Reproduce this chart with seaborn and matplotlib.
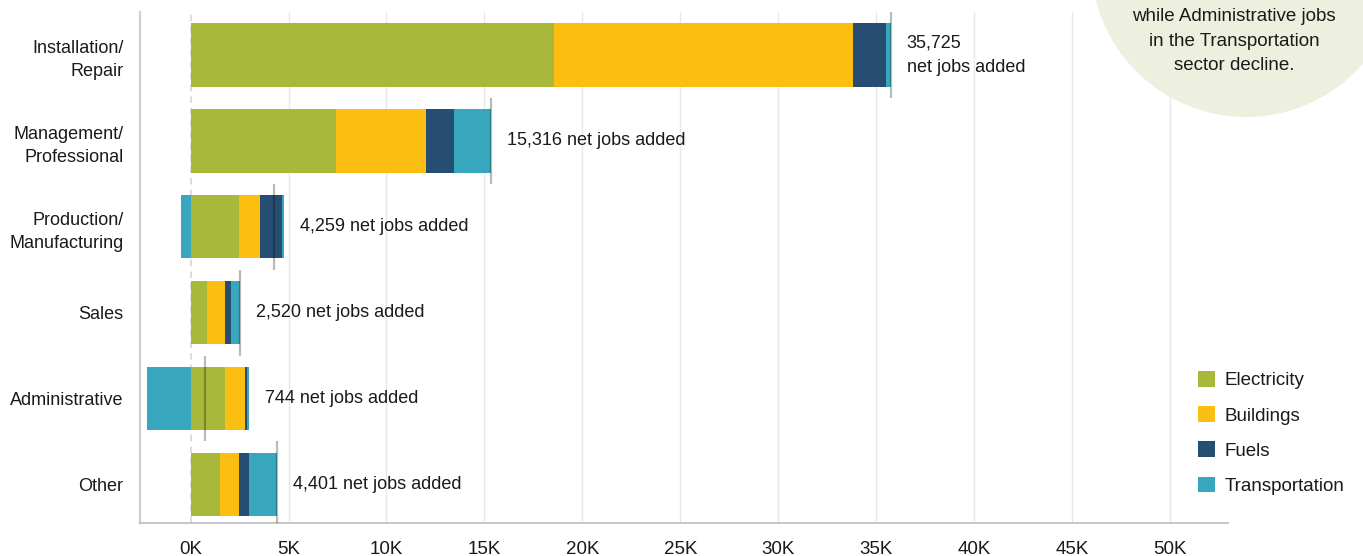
import matplotlib
matplotlib.use("Agg")
import matplotlib.pyplot as plt
import seaborn as sns
import numpy as np
import pandas as pd
from matplotlib.patches import Circle, Patch
from matplotlib.transforms import IdentityTransform

# ---- data (jobs) ----
categories = ["Installation/\nRepair", "Management/\nProfessional", "Production/\nManufacturing",
              "Sales", "Administrative", "Other"]
electricity = [18550, 7420, 2470, 840, 1760, 1510]
buildings = [15250, 4600, 1080, 920, 1020, 960]
fuels = [1680, 1420, 1140, 310, 100, 510]
transport_pos = [250, 1880, 60, 450, 100, 1440]
transport_neg = [0, 0, -500, 0, -2240, 0]
net_totals = [35725, 15316, 4259, 2520, 744, 4401]
series_names = ["Electricity", "Buildings", "Fuels", "Transportation"]
series_colors = ["#a7b83b", "#fdbe12", "#254e72", "#38a6bd"]
tick_values = list(range(0, 50001, 5000))
tick_labels = [f"{v // 1000}K" for v in tick_values]
note_text = "while Administrative jobs\nin the Transportation\nsector decline."

sns.set_theme(style="white")
plt.rcParams["font.family"] = ["Liberation Sans", "DejaVu Sans"]

fig = plt.figure(figsize=(13.63, 5.56), dpi=100)
ax = fig.add_axes([140 / 1363, 1 - 523 / 556, (1228 - 140) / 1363, (523 - 12) / 556])

# cumulative stacks (draw longest first, shorter ones on top)
parts = [electricity, buildings, fuels, transport_pos]
cums = np.cumsum(np.array(parts, dtype=float), axis=0)
for i in range(len(parts) - 1, -1, -1):
    df = pd.DataFrame({"cat": categories, "val": cums[i]})
    sns.barplot(data=df, x="val", y="cat", orient="h", color=series_colors[i],
                saturation=1, width=0.74, linewidth=0, ax=ax, zorder=3)
dfn = pd.DataFrame({"cat": categories, "val": transport_neg})
sns.barplot(data=dfn, x="val", y="cat", orient="h", color=series_colors[3],
            saturation=1, width=0.74, linewidth=0, ax=ax, zorder=3)

# grid and zero line
for v in tick_values[1:]:
    ax.axvline(v, color="#e8e8e8", lw=1.0, zorder=0)
ax.axvline(0, color="#d6d6d6", lw=1.2, ls=(0, (4, 3)), zorder=1)

# net total markers and labels
pos_end = cums[-1]
for i, (net, end) in enumerate(zip(net_totals, pos_end)):
    ax.plot([net, net], [i - 0.5, i + 0.5], color="black", alpha=0.27, lw=1.6,
            solid_capstyle="butt", zorder=4)
    if i == 0:
        label = f"{net:,}\nnet jobs added"
    else:
        label = f"{net:,} net jobs added"
    ax.text(end + 820, i, label, va="center", ha="left", fontsize=13,
            color="#1a1a1a", linespacing=1.55, zorder=5)

ax.set_xlim(-2580, 52950)
ax.set_ylim(5.45, -0.5)
ax.set_xticks(tick_values)
ax.set_xticklabels(tick_labels, fontsize=13.5, color="#1a1a1a")
ax.tick_params(axis="x", length=0, pad=13)
ax.tick_params(axis="y", length=0, pad=12, labelsize=13, labelcolor="#1a1a1a")
for t in ax.get_yticklabels():
    t.set_linespacing(1.5)
ax.set_xlabel("")
ax.set_ylabel("")
for s in ["top", "right"]:
    ax.spines[s].set_visible(False)
ax.spines["left"].set_color("#cfcfcf")
ax.spines["left"].set_linewidth(1.6)
ax.spines["bottom"].set_color("#bdbdbd")
ax.spines["bottom"].set_linewidth(1.2)

# legend
handles = [Patch(facecolor=c, edgecolor="none", label=n) for n, c in zip(series_names, series_colors)]
fig.legend(handles=handles, loc="center left", bbox_to_anchor=(1198 / 1363, 1 - 433 / 556),
           frameon=False, fontsize=13.5, handlelength=0.9, handleheight=0.9,
           handletextpad=0.5, labelspacing=0.9, borderpad=0, borderaxespad=0,
           labelcolor="#1a1a1a")

# callout circle
circ = Circle((1246, 556 + 38), 155, transform=IdentityTransform(),
              facecolor="#eef0df", edgecolor="none", zorder=10)
fig.add_artist(circ)
fig.text(1234 / 1363, 1 - 41 / 556, note_text, ha="center", va="center",
         fontsize=13.5, color="#1a1a1a", linespacing=1.55, zorder=11)

fig.savefig("out.png", dpi=100)
